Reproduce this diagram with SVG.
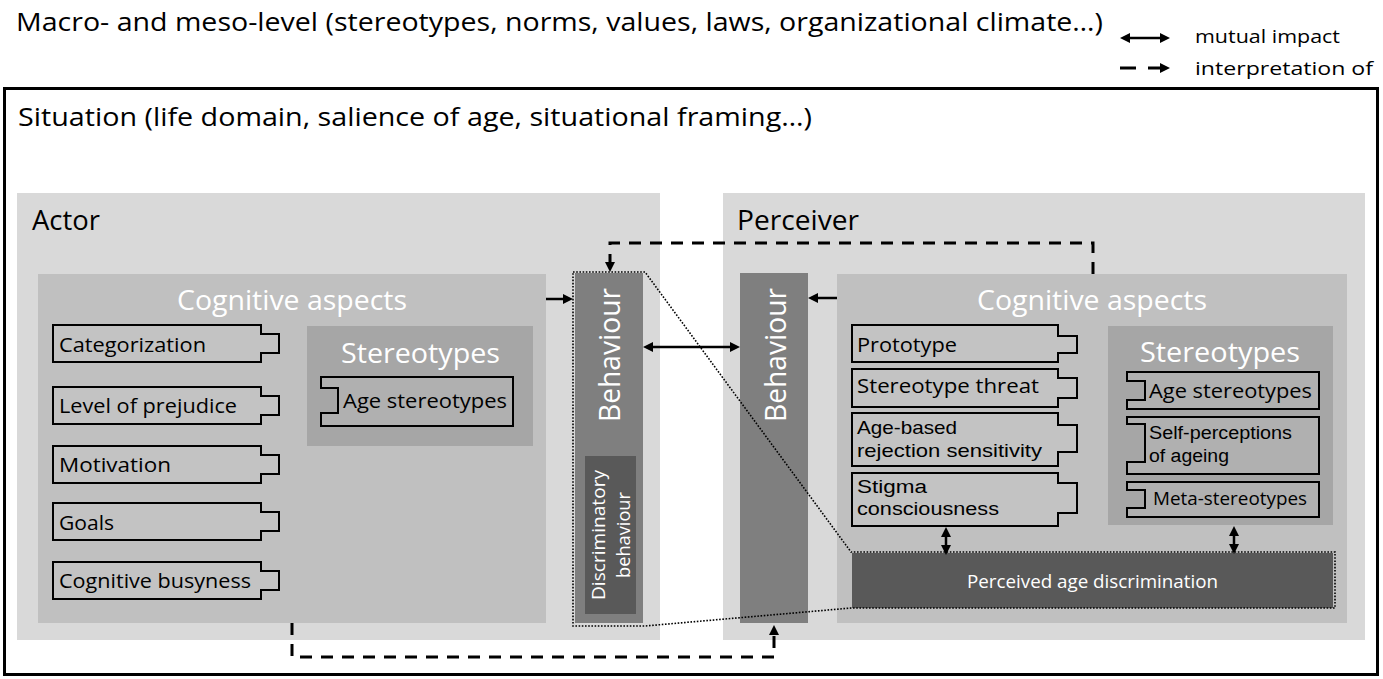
<svg xmlns="http://www.w3.org/2000/svg" width="1383" height="679" viewBox="0 0 1383 679">
<style>
text{font-family:"Open Sans","Liberation Sans",sans-serif;fill:#000}
text.ls{font-family:"Liberation Sans","Open Sans",sans-serif}
.w{fill:#fff}
.item{fill:#c3c3c3;stroke:#000;stroke-width:2}
.sitem{fill:#b0b0b0;stroke:#000;stroke-width:2}
.dash{fill:none;stroke:#000;stroke-width:3;stroke-dasharray:12 9}
.solid{fill:none;stroke:#000;stroke-width:2.5}
.dot{fill:none;stroke:#000;stroke-width:1.6;stroke-dasharray:1.6 1.6}
</style>
<defs>
<marker id="ah" viewBox="0 0 10 10" refX="0" refY="5" markerWidth="10" markerHeight="10" markerUnits="userSpaceOnUse" orient="auto-start-reverse"><path d="M0,0 L10,5 L0,10 Z" fill="#000"/></marker>
</defs>
<rect width="1383" height="679" fill="#fff"/>
<g id="title">
<text x="16" y="31" font-size="26" textLength="1087" lengthAdjust="spacingAndGlyphs">Macro- and meso-level (stereotypes, norms, values, laws, organizational climate…)</text>
</g>
<g id="legend">
<path class="solid" d="M1130,38 H1160" marker-start="url(#ah)" marker-end="url(#ah)"/>
<text x="1195" y="43" font-size="19" textLength="145" lengthAdjust="spacingAndGlyphs">mutual impact</text>
<path class="solid" d="M1120,68 H1160" style="stroke-width:3;stroke-dasharray:16 12" marker-end="url(#ah)"/>
<text x="1195" y="75" font-size="19" textLength="178" lengthAdjust="spacingAndGlyphs">interpretation of</text>
</g>
<g id="situation">
<rect x="4.5" y="88.5" width="1373" height="586" fill="none" stroke="#000" stroke-width="3"/>
<text x="18" y="126" font-size="26" textLength="794" lengthAdjust="spacingAndGlyphs">Situation (life domain, salience of age, situational framing…)</text>
</g>
<g id="actor">
<rect x="17" y="193" width="643" height="447" fill="#d9d9d9"/>
<text x="32" y="230" font-size="27" textLength="68" lengthAdjust="spacingAndGlyphs">Actor</text>
</g>
<g id="perceiver">
<rect x="723" y="193" width="642" height="447" fill="#d9d9d9"/>
<text x="737" y="230" font-size="27" textLength="122" lengthAdjust="spacingAndGlyphs">Perceiver</text>
</g>
<g id="actor-cognitive">
<rect x="38" y="274" width="508" height="349" fill="#c0c0c0"/>
<text class="w" x="177" y="310" font-size="27" textLength="230" lengthAdjust="spacingAndGlyphs">Cognitive aspects</text>
</g>
<g id="categorization"><path class="item" d="M53,325 H261 V334 H279 V353 H261 V362 H53 Z"/><text x="59" y="352" font-size="20" textLength="147" lengthAdjust="spacingAndGlyphs">Categorization</text></g>
<g id="level-of-prejudice"><path class="item" d="M53,387 H261 V396 H279 V415 H261 V424 H53 Z"/><text x="59" y="413" font-size="20" textLength="178" lengthAdjust="spacingAndGlyphs">Level of prejudice</text></g>
<g id="motivation"><path class="item" d="M53,446 H261 V455 H279 V474 H261 V483 H53 Z"/><text x="59" y="472" font-size="20" textLength="112" lengthAdjust="spacingAndGlyphs">Motivation</text></g>
<g id="goals"><path class="item" d="M53,503 H261 V512 H279 V531 H261 V540 H53 Z"/><text x="59" y="530" font-size="20" textLength="55" lengthAdjust="spacingAndGlyphs">Goals</text></g>
<g id="cognitive-busyness"><path class="item" d="M53,562 H261 V571 H279 V590 H261 V599 H53 Z"/><text x="59" y="588" font-size="20" textLength="192" lengthAdjust="spacingAndGlyphs">Cognitive busyness</text></g>
<g id="actor-stereotypes">
<rect x="307" y="326" width="226" height="120" fill="#a6a6a6"/>
<text class="w" x="341" y="363" font-size="27" textLength="159" lengthAdjust="spacingAndGlyphs">Stereotypes</text>
</g>
<g id="actor-age-stereotypes"><path class="sitem" d="M321,377 H513 V426 H321 V413 H338 V388 H321 Z"/><text x="343" y="408" font-size="20" textLength="164" lengthAdjust="spacingAndGlyphs">Age stereotypes</text></g>
<g id="actor-behaviour">
<rect x="575" y="273" width="68" height="350" fill="#7f7f7f"/>
<text class="w" transform="translate(620,355) rotate(-90)" text-anchor="middle" font-size="29" textLength="134" lengthAdjust="spacingAndGlyphs">Behaviour</text>
</g>
<g id="discriminatory-behaviour">
<rect x="585" y="456" width="51" height="158" fill="#595959"/>
<text class="w" transform="translate(605,535) rotate(-90)" text-anchor="middle" font-size="18" textLength="130" lengthAdjust="spacingAndGlyphs">Discriminatory</text>
<text class="w" transform="translate(630,535) rotate(-90)" text-anchor="middle" font-size="18" textLength="86" lengthAdjust="spacingAndGlyphs">behaviour</text>
</g>
<g id="perceiver-behaviour">
<rect x="740" y="273" width="68" height="350" fill="#7f7f7f"/>
<text class="w" transform="translate(786,355) rotate(-90)" text-anchor="middle" font-size="29" textLength="134" lengthAdjust="spacingAndGlyphs">Behaviour</text>
</g>
<g id="perceiver-cognitive">
<rect x="837" y="274" width="510" height="349" fill="#c0c0c0"/>
<text class="w" x="977" y="310" font-size="27" textLength="230" lengthAdjust="spacingAndGlyphs">Cognitive aspects</text>
</g>
<g id="prototype"><path class="item" d="M852,325 H1058 V336 H1077 V353 H1058 V362 H852 Z"/><text x="857" y="352" font-size="20" textLength="100" lengthAdjust="spacingAndGlyphs">Prototype</text></g>
<g id="stereotype-threat"><path class="item" d="M852,369 H1058 V378 H1077 V398 H1058 V407 H852 Z"/><text x="857" y="393" font-size="20" textLength="182" lengthAdjust="spacingAndGlyphs">Stereotype threat</text></g>
<g id="rejection-sensitivity"><path class="item" d="M852,413 H1058 V425 H1077 V452 H1058 V466 H852 Z"/><text class="ls" x="857" y="434" font-size="19" textLength="100" lengthAdjust="spacingAndGlyphs">Age-based</text><text class="ls" x="857" y="457" font-size="19" textLength="185" lengthAdjust="spacingAndGlyphs">rejection sensitivity</text></g>
<g id="stigma-consciousness"><path class="item" d="M852,473 H1058 V483 H1077 V513 H1058 V526 H852 Z"/><text class="ls" x="857" y="493" font-size="18" textLength="70" lengthAdjust="spacingAndGlyphs">Stigma</text><text class="ls" x="857" y="515" font-size="18" textLength="142" lengthAdjust="spacingAndGlyphs">consciousness</text></g>
<g id="perceiver-stereotypes">
<rect x="1108" y="326" width="225" height="199" fill="#a6a6a6"/>
<text class="w" x="1140" y="362" font-size="27" textLength="160" lengthAdjust="spacingAndGlyphs">Stereotypes</text>
</g>
<g id="perceiver-age-stereotypes"><path class="sitem" d="M1127,372 H1319 V409 H1127 V400 H1145 V381 H1127 Z"/><text x="1149" y="398" font-size="20" textLength="163" lengthAdjust="spacingAndGlyphs">Age stereotypes</text></g>
<g id="self-perceptions"><path class="sitem" d="M1127,417 H1319 V474 H1127 V462 H1145 V424 H1127 Z"/><text class="ls" x="1149" y="439" font-size="18" textLength="143" lengthAdjust="spacingAndGlyphs">Self-perceptions</text><text class="ls" x="1149" y="462" font-size="18" textLength="80" lengthAdjust="spacingAndGlyphs">of ageing</text></g>
<g id="meta-stereotypes"><path class="sitem" d="M1127,482 H1319 V517 H1127 V508 H1145 V490 H1127 Z"/><text x="1153" y="505" font-size="18" textLength="154" lengthAdjust="spacingAndGlyphs">Meta-stereotypes</text></g>
<g id="perceived-age-discrimination">
<rect x="852" y="553" width="481" height="55" fill="#595959"/>
<text class="w" x="967" y="588" font-size="19" textLength="251" lengthAdjust="spacingAndGlyphs">Perceived age discrimination</text>
</g>
<g id="connectors">
<path class="dot" d="M573,272 H645 L851,552 H1335 V608 H851 L645,626 H573 Z"/>
<path class="solid" d="M546,299 H563" marker-end="url(#ah)"/>
<path class="solid" d="M837,298 H818" marker-end="url(#ah)"/>
<path class="solid" d="M653,347 H730" marker-start="url(#ah)" marker-end="url(#ah)"/>
<path class="solid" d="M946,537 V545" marker-start="url(#ah)" marker-end="url(#ah)"/>
<path class="solid" d="M1234,536 V544" marker-start="url(#ah)" marker-end="url(#ah)"/>
<path class="dash" d="M1093,274 V243 H610 V262" marker-end="url(#ah)"/>
<path class="dash" d="M292,623 V657 H774 V635" marker-end="url(#ah)"/>
</g>
</svg>
